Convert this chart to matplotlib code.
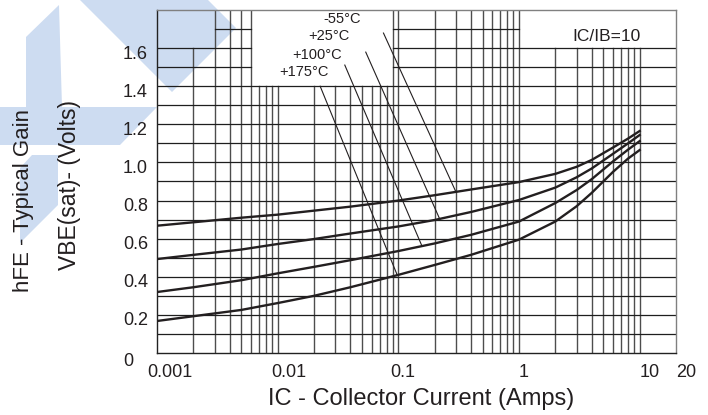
import numpy as np
import matplotlib.pyplot as plt
from matplotlib.patches import Polygon
from matplotlib.transforms import ScaledTranslation

plt.rcParams['font.family'] = ['Liberation Sans', 'DejaVu Sans']

ic = [0.001, 0.002, 0.005, 0.01, 0.02, 0.04, 0.1, 0.2, 0.4, 1, 2, 3, 4, 6, 8, 10]

# VBE(sat) in volts, one list per junction temperature
vbe_m55 = [0.668, 0.686, 0.710, 0.726, 0.747, 0.768, 0.800, 0.828, 0.858, 0.897,
           0.940, 0.977, 1.013, 1.078, 1.125, 1.165]
vbe_25 = [0.493, 0.515, 0.543, 0.572, 0.598, 0.627, 0.664, 0.698, 0.740, 0.803,
          0.868, 0.922, 0.968, 1.045, 1.100, 1.144]
vbe_100 = [0.320, 0.345, 0.382, 0.418, 0.452, 0.487, 0.535, 0.575, 0.620, 0.690,
           0.787, 0.855, 0.912, 1.005, 1.067, 1.112]
vbe_175 = [0.168, 0.193, 0.226, 0.262, 0.300, 0.345, 0.410, 0.462, 0.515, 0.595,
           0.690, 0.770, 0.840, 0.950, 1.020, 1.065]

temps = ['-55°C', '+25°C', '+100°C', '+175°C']
curves = [vbe_m55, vbe_25, vbe_100, vbe_175]

x_ticks = [0.001, 0.01, 0.1, 1, 10, 20]
x_ticklabels = ['0.001', '0.01', '0.1', '1', '10', '20']
y_ticks = [0, 0.2, 0.4, 0.6, 0.8, 1.0, 1.2, 1.4, 1.6]
y_ticklabels = ['0', '0.2', '0.4', '0.6', '0.8', '1.0', '1.2', '1.4', '1.6']

W, H = 708, 415
fig = plt.figure(figsize=(W / 100, H / 100), dpi=100)
ax = fig.add_axes([157 / W, 62 / H, 519 / W, 343 / H])
ax.set_facecolor('none')

# light blue watermark behind everything (figure pixel coords)
blue = '#cddcf1'
shapes = [
    [(80, 0), (172, 92), (236, 28), (208, 0)],
    [(26, 37), (59, 5), (62, 107), (157, 107), (120, 145), (0, 145), (0, 107), (26, 107)],
    [(32, 155), (58, 155), (58, 205), (20, 243), (20, 168)],
]
for pts in shapes:
    poly = Polygon([(px / W, 1 - py / H) for px, py in pts], closed=True,
                   facecolor=blue, edgecolor='none', transform=fig.transFigure, zorder=-5)
    fig.add_artist(poly)

ax.set_xscale('log')
ax.set_xlim(0.001, 20)
ax.set_ylim(0, 1.8)

# hand-drawn style grid with blank areas where the labels sit
blank = [(0.001, 0.003, 1.6, 1.8), (0.006, 0.09, 1.4, 1.8), (1, 20, 1.6, 1.8)]
vx = [m * 10.0 ** k for k in range(-3, 1) for m in range(1, 10)] + [10.0]
for gx in vx[1:]:
    top = 1.8
    for x0, x1, y0, y1 in blank:
        if x0 * 1.01 < gx < x1 * 0.99:
            top = y0
    ax.plot([gx, gx], [0, top], color='#4d4d4d', lw=1.0, zorder=1)

for k in range(1, 18):
    gy = k / 10
    segs = [[0.001, 20]]
    for x0, x1, y0, y1 in blank:
        if y0 + 0.01 < gy < y1 - 0.01:
            new = []
            for a, b in segs:
                if b <= x0 or a >= x1:
                    new.append([a, b])
                    continue
                if a < x0:
                    new.append([a, x0])
                if b > x1:
                    new.append([x1, b])
            segs = new
    for a, b in segs:
        ax.plot([a, b], [gy, gy], color='#1e1e1e', lw=0.9, zorder=1)

# the four VBE(sat) curves
for vals in curves:
    ax.plot(ic, vals, color='#231f20', lw=1.7, zorder=3, solid_joinstyle='round')

# temperature labels with leader lines down to their curve
label_pos = [(0.0341, 1.752), (0.0267, 1.663), (0.0213, 1.563), (0.0166, 1.474)]
lead_start = [(0.0753, 1.679), (0.0537, 1.579), (0.036, 1.511), (0.0225, 1.40)]
lead_end_x = [0.30, 0.22, 0.157, 0.098]
for t, vals, (tx, ty), (sx, sy), ex in zip(temps, curves, label_pos, lead_start, lead_end_x):
    ax.text(tx, ty, t, fontsize=10.5, ha='center', va='center', color='#231f20', zorder=4)
    ey = np.interp(np.log10(ex), np.log10(ic), vals)
    ax.plot([sx, ex], [sy, ey], color='#231f20', lw=0.8, zorder=2)

ax.text(2.77, 1.663, 'IC/IB=10', fontsize=12.5, ha='left', va='center', color='#231f20')

# axes frame
for side in ['left', 'bottom']:
    ax.spines[side].set_color('#222222')
for side in ['top', 'right']:
    ax.spines[side].set_color('#808080')
for s in ax.spines.values():
    s.set_linewidth(1.0)
    s.set_zorder(2)

ax.set_xticks(x_ticks)
ax.set_xticklabels(x_ticklabels)
ax.set_xticks([], minor=True)
ax.set_yticks(y_ticks)
ax.set_yticklabels(y_ticklabels)
ax.tick_params(axis='both', length=0, labelsize=13, colors='#231f20')
ax.tick_params(axis='x', pad=8)
ax.tick_params(axis='y', pad=6.5)

# tick labels in the original sit a little off their grid lines
x_shift = [13, 11, 4, 5, 10, 10]
for lab, dx in zip(ax.get_xticklabels(), x_shift):
    lab.set_transform(lab.get_transform() + ScaledTranslation(dx / 100, 0, fig.dpi_scale_trans))
for lab, val in zip(ax.get_yticklabels(), y_ticks):
    dx, dy = (-15, -6) if val == 0 else (0, -4)
    lab.set_transform(lab.get_transform() + ScaledTranslation(dx / 100, dy / 100, fig.dpi_scale_trans))

ax.set_xlabel('IC - Collector Current (Amps)', fontsize=17, color='#231f20')
ax.xaxis.label.set_va('baseline')
ax.xaxis.set_label_coords(0.509, -0.152)
ax.set_ylabel('VBE(sat)- (Volts)', fontsize=16.5, color='#231f20')
ax.yaxis.label.set_va('center')
ax.yaxis.set_label_coords(-0.168, 0.49)

fig.text(24 / W, 1 - 200 / H, 'hFE - Typical Gain', rotation=90, fontsize=16,
         ha='center', va='center', color='#231f20')

fig.savefig('out.png', dpi=100)
